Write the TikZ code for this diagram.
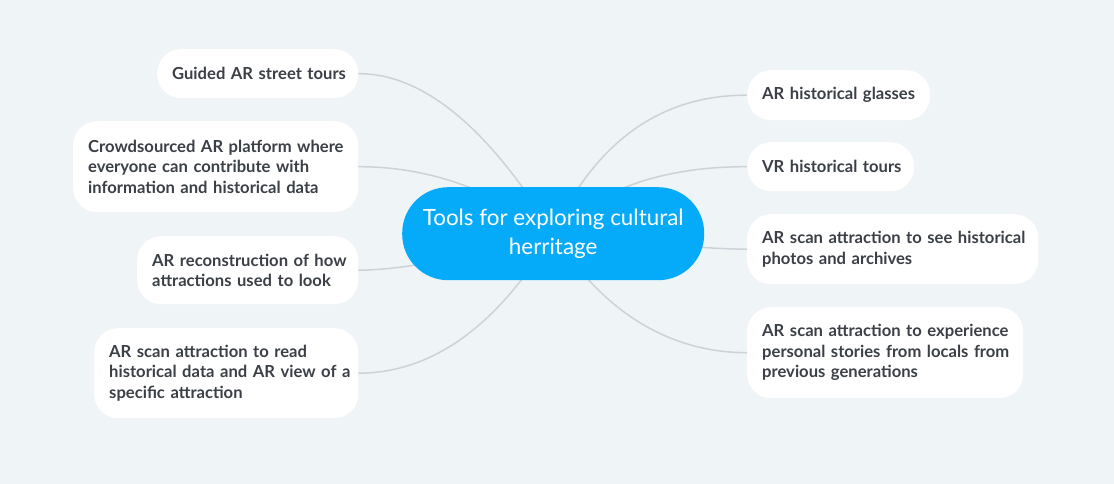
\documentclass[tikz,border=0pt]{standalone}
\usepackage{fontspec}
\setmainfont{Lato}
\definecolor{bg}{HTML}{EFF4F7}
\definecolor{hub}{HTML}{05AAF9}
\definecolor{ink}{HTML}{3B3F46}
\definecolor{wire}{HTML}{CDD2D8}
\begin{document}
\begin{tikzpicture}[x=1pt,y=-1pt,
  leaf/.style={draw=none,fill=white,rounded corners=24pt,anchor=north west,
    inner xsep=15pt,inner ysep=0pt,align=left,text=ink,
    font=\fontsize{16.6}{20.5}\selectfont\bfseries},
  hubbox/.style={fill=hub,rounded corners=46pt,anchor=north west,
    minimum width=302pt,minimum height=93pt,inner sep=0pt,align=center,
    text=white,font=\fontsize{22.4}{29}\selectfont},
  wirestyle/.style={draw=wire,line width=1.5pt}]
\fill[bg] (0,0) rectangle (1114,484);
\useasboundingbox (0,0) rectangle (1114,484);
% left leaves
\node[leaf,text width=171pt,minimum height=49pt] (l1) at (157,49) {\mbox{Guided AR street tours}};
\node[leaf,text width=255pt,minimum height=91pt] (l2) at (73,121) {\mbox{Crowdsourced AR platform where}\\\mbox{everyone can contribute with}\\\mbox{information and historical data}};
\node[leaf,text width=191pt,minimum height=68pt] (l3) at (137,236) {\mbox{AR reconstruction of how}\\\mbox{attractions used to look}};
\node[leaf,text width=234pt,minimum height=90pt] (l4) at (94,328) {\mbox{AR scan attraction to read}\\\mbox{historical data and AR view of a}\\\mbox{specific attraction}};
% right leaves
\node[leaf,text width=153pt,minimum height=50pt] (r1) at (747,70) {\mbox{AR historical glasses}};
\node[leaf,text width=137pt,minimum height=49pt] (r2) at (747,142) {\mbox{VR historical tours}};
\node[leaf,text width=261pt,minimum height=70pt] (r3) at (747,214) {\mbox{AR scan attraction to see historical}\\\mbox{photos and archives}};
\node[leaf,text width=246pt,minimum height=91pt] (r4) at (747,307) {\mbox{AR scan attraction to experience}\\\mbox{personal stories from locals from}\\\mbox{previous generations}};
% hub point
\coordinate (c) at (553,233);
% connectors
\draw[wirestyle] (l1.east) .. controls (422.7,73.5) and (487.7,127) .. (c);
\draw[wirestyle] (l2.east) .. controls (444.7,166.5) and (509.7,202.3) .. (c);
\draw[wirestyle] (l3.east) .. controls (402,270) and (467,257.7) .. (c);
\draw[wirestyle] (l4.east) .. controls (432,373) and (497.7,326.3) .. (c);
\draw[wirestyle] (r1.west) .. controls (661,95) and (596.3,141) .. (c);
\draw[wirestyle] (r2.west) .. controls (663.7,166.5) and (599,189) .. (c);
\draw[wirestyle] (r3.west) .. controls (709,249) and (644.3,243.7) .. (c);
\draw[wirestyle] (r4.west) .. controls (669.3,352.5) and (603,312.3) .. (c);
% hub
\node[hubbox] (hub) at (402,187) {Tools for exploring cultural\\herritage};
\end{tikzpicture}
\end{document}
